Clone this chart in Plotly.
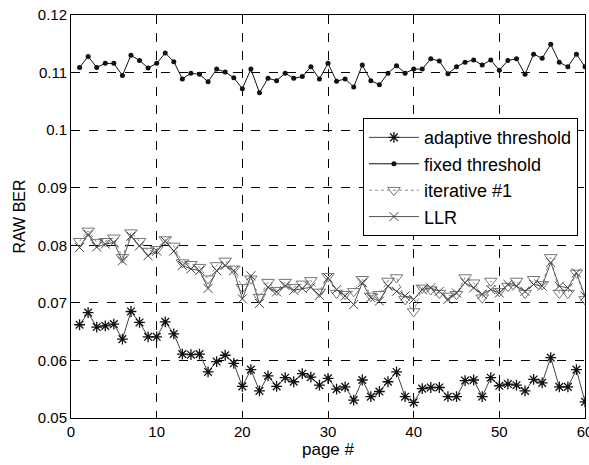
import plotly.graph_objects as go

pages = list(range(1, 61))

adaptive = [0.0662, 0.0683, 0.0658, 0.0660, 0.0663, 0.0637, 0.0685, 0.0666, 0.0641, 0.0641,
            0.0667, 0.0646, 0.0611, 0.0610, 0.0611, 0.0580, 0.0598, 0.0609, 0.0595, 0.0555,
            0.0584, 0.0547, 0.0573, 0.0555, 0.0570, 0.0563, 0.0577, 0.0571, 0.0557, 0.0569,
            0.0550, 0.0554, 0.0531, 0.0566, 0.0537, 0.0546, 0.0563, 0.0580, 0.0537, 0.0527,
            0.0551, 0.0553, 0.0553, 0.0537, 0.0537, 0.0565, 0.0566, 0.0537, 0.0570, 0.0556,
            0.0559, 0.0557, 0.0547, 0.0567, 0.0561, 0.0605, 0.0554, 0.0554, 0.0584, 0.0528]

fixed = [0.1109, 0.1128, 0.1109, 0.1116, 0.1116, 0.1095, 0.1130, 0.1121, 0.1108, 0.1116,
         0.1134, 0.1119, 0.1089, 0.1099, 0.1097, 0.1084, 0.1106, 0.1101, 0.1091, 0.1072,
         0.1106, 0.1065, 0.1090, 0.1086, 0.1099, 0.1090, 0.1093, 0.1110, 0.1089, 0.1116,
         0.1085, 0.1089, 0.1075, 0.1113, 0.1086, 0.1079, 0.1099, 0.1112, 0.1099, 0.1106,
         0.1106, 0.1124, 0.1120, 0.1098, 0.1110, 0.1118, 0.1122, 0.1113, 0.1122, 0.1104,
         0.1121, 0.1124, 0.1097, 0.1132, 0.1125, 0.1149, 0.1118, 0.1110, 0.1132, 0.1110]

iterative = [0.0807, 0.0825, 0.0805, 0.0807, 0.0813, 0.0779, 0.0822, 0.0807, 0.0790, 0.0793,
             0.0810, 0.0799, 0.0770, 0.0767, 0.0762, 0.0742, 0.0765, 0.0773, 0.0759, 0.0727,
             0.0742, 0.0710, 0.0736, 0.0722, 0.0736, 0.0727, 0.0733, 0.0739, 0.0719, 0.0746,
             0.0717, 0.0715, 0.0720, 0.0741, 0.0712, 0.0715, 0.0738, 0.0744, 0.0706, 0.0685,
             0.0726, 0.0723, 0.0717, 0.0712, 0.0715, 0.0744, 0.0735, 0.0709, 0.0738, 0.0720,
             0.0729, 0.0738, 0.0717, 0.0741, 0.0732, 0.0779, 0.0717, 0.0717, 0.0752, 0.0706]

llr = [0.0796, 0.0819, 0.0797, 0.0802, 0.0805, 0.0773, 0.0816, 0.0799, 0.0782, 0.0790,
       0.0807, 0.0790, 0.0765, 0.0759, 0.0756, 0.0725, 0.0756, 0.0765, 0.0756, 0.0707,
       0.0747, 0.0699, 0.0727, 0.0719, 0.0730, 0.0722, 0.0725, 0.0727, 0.0713, 0.0743,
       0.0723, 0.0712, 0.0697, 0.0735, 0.0709, 0.0703, 0.0729, 0.0720, 0.0712, 0.0706,
       0.0723, 0.0726, 0.0720, 0.0706, 0.0717, 0.0735, 0.0726, 0.0715, 0.0723, 0.0717,
       0.0732, 0.0729, 0.0720, 0.0732, 0.0729, 0.0770, 0.0729, 0.0726, 0.0752, 0.0712]

x_ticks = [0, 10, 20, 30, 40, 50, 60]
y_ticks = [0.05, 0.06, 0.07, 0.08, 0.09, 0.10, 0.11, 0.12]
y_ticktext = ["0.05", "0.06", "0.07", "0.08", "0.09", "0.1", "0.11", "0.12"]

FONT = "Arial, Liberation Sans, sans-serif"

fig = go.Figure()
fig.add_trace(go.Scatter(
    x=pages, y=adaptive, name="adaptive threshold", mode="lines+markers",
    line=dict(color="#444444", width=1),
    marker=dict(symbol="asterisk-open", size=9, color="#111111", line=dict(width=1.3, color="#111111"))))
fig.add_trace(go.Scatter(
    x=pages, y=fixed, name="fixed threshold", mode="lines+markers",
    line=dict(color="#111111", width=1),
    marker=dict(symbol="circle", size=5, color="#111111")))
fig.add_trace(go.Scatter(
    x=pages, y=iterative, name="iterative #1", mode="lines+markers",
    line=dict(color="#888888", width=1, dash="dot"),
    marker=dict(symbol="triangle-down-open", size=11, color="#777777", line=dict(width=1, color="#777777"))))
fig.add_trace(go.Scatter(
    x=pages, y=llr, name="LLR", mode="lines+markers",
    line=dict(color="#555555", width=1),
    marker=dict(symbol="x-thin-open", size=9, color="#444444", line=dict(width=1, color="#444444"))))

axis_common = dict(
    showline=True, linecolor="black", linewidth=1, mirror=True,
    ticks="inside", ticklen=5, tickcolor="black",
    showgrid=True, gridcolor="black", gridwidth=1, griddash="dash",
    zeroline=False, tickfont=dict(family=FONT, size=15, color="black"),
    ticklabeloverflow="allow", automargin=False,
)

fig.update_layout(
    width=589, height=465,
    margin=dict(l=71, r=4, t=15, b=47),
    paper_bgcolor="white", plot_bgcolor="white",
    font=dict(family=FONT, color="black"),
    xaxis=dict(range=[0, 60], tickvals=x_ticks,
               title=dict(text="page #", font=dict(family=FONT, size=17), standoff=2),
               **axis_common),
    yaxis=dict(range=[0.05, 0.12], tickvals=y_ticks, ticktext=y_ticktext,
               title=dict(text="RAW BER", font=dict(family=FONT, size=16), standoff=8),
               **axis_common),
    legend=dict(x=0.568, y=0.744, xanchor="left", yanchor="top",
                bgcolor="white", bordercolor="black", borderwidth=1,
                font=dict(family=FONT, size=18, color="black"),
                tracegroupgap=0, itemwidth=50),
    showlegend=True,
)

fig.write_html("out.html")
